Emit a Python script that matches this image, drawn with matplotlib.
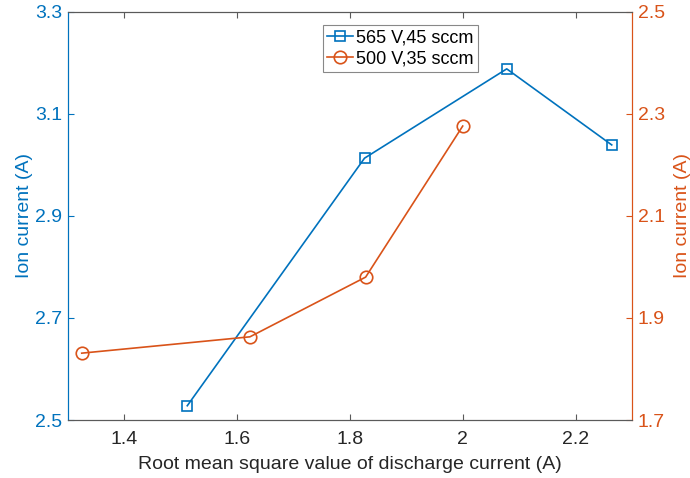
import matplotlib
matplotlib.use("Agg")
import matplotlib.pyplot as plt

plt.rcParams["font.family"] = ["Liberation Sans", "DejaVu Sans"]

# data
x_565 = [1.512, 1.826, 2.078, 2.264]
y_565 = [2.528, 3.013, 3.188, 3.039]
x_500 = [1.325, 1.623, 1.828, 2.0]
y_500 = [1.831, 1.863, 1.980, 2.276]
lab_565 = "565 V,45 sccm"
lab_500 = "500 V,35 sccm"
xticks = [1.4, 1.6, 1.8, 2.0, 2.2]
xticklabels = ["1.4", "1.6", "1.8", "2", "2.2"]
yticks_l = [2.5, 2.7, 2.9, 3.1, 3.3]
yticks_r = [1.7, 1.9, 2.1, 2.3, 2.5]

BLUE = "#0072BD"
ORANGE = "#D95319"
GREY = "#5a5a5a"

fig = plt.figure(figsize=(6.9, 4.78), dpi=100)
ax = fig.add_axes([0.098, 0.1213, 0.818, 0.8542])
ax2 = ax.twinx()

l1, = ax.plot(x_565, y_565, "-s", color=BLUE, lw=1.2, ms=7, mfc="none", mew=1.2, label=lab_565)
l2, = ax2.plot(x_500, y_500, "-o", color=ORANGE, lw=1.2, ms=9, mfc="none", mew=1.2, label=lab_500)

ax.set_xlim(1.3, 2.3)
ax.set_ylim(2.5, 3.3)
ax2.set_ylim(1.7, 2.5)
ax.set_xticks(xticks)
ax.set_xticklabels(xticklabels)
ax.set_yticks(yticks_l)
ax.set_yticklabels([f"{v:.1f}" for v in yticks_l])
ax2.set_yticks(yticks_r)
ax2.set_yticklabels([f"{v:.1f}" for v in yticks_r])

for a in (ax, ax2):
    a.spines["top"].set_color(GREY)
    a.spines["bottom"].set_color(GREY)
    a.spines["left"].set_color(BLUE)
    a.spines["right"].set_color(ORANGE)
    for s in a.spines.values():
        s.set_linewidth(0.8)

ax.tick_params(axis="x", direction="in", top=True, length=4, width=0.8, color=GREY,
               labelsize=14, labelcolor="#262626", pad=8)
ax.tick_params(axis="y", direction="in", length=4, width=0.8, color=BLUE,
               labelsize=14, labelcolor=BLUE, pad=4)
ax2.tick_params(axis="y", direction="in", length=4, width=0.8, color=ORANGE,
                labelsize=14, labelcolor=ORANGE, pad=4)

ax.set_xlabel("Root mean square value of discharge current (A)", fontsize=14, color="#262626", labelpad=6)
ax.set_ylabel("Ion current (A)", fontsize=14, color=BLUE, labelpad=1.5)
ax2.set_ylabel("Ion current (A)", fontsize=14, color=ORANGE, labelpad=7, rotation=90)

leg = ax2.legend(handles=[l1, l2], loc="upper left", bbox_to_anchor=(0.452, 0.967),
                 fontsize=13, frameon=True, fancybox=False, framealpha=1,
                 edgecolor="#888888", handlelength=1.4, handletextpad=0.2,
                 borderpad=0.25, labelspacing=0.2, borderaxespad=0)
leg.get_frame().set_linewidth(0.8)

fig.savefig("out.png", dpi=100)
